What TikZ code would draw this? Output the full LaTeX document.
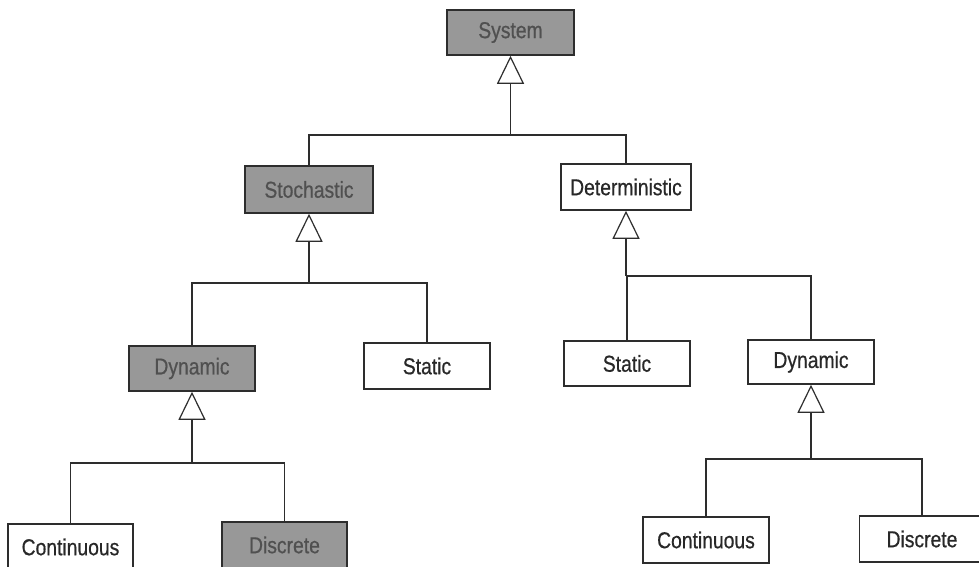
\documentclass[tikz,border=0pt]{standalone}
\usepackage{fontspec}
\setmainfont{Liberation Sans}[FakeStretch=0.84,FakeBold=0.6]
\usetikzlibrary{arrows.meta}
\definecolor{boxgray}{RGB}{152,152,152}
\definecolor{linegray}{RGB}{45,45,45}
\definecolor{txtdark}{RGB}{40,40,40}
\definecolor{txtgray}{RGB}{80,80,80}
\tikzset{
  cls/.style={draw=linegray, line width=1.6pt, rectangle, minimum width=126pt, minimum height=45pt, inner sep=0pt, font=\fontsize{23}{25}\selectfont, text=txtdark, fill=white},
  shaded/.style={cls, fill=boxgray, text=txtgray},
  conn/.style={draw=linegray, line width=1.1pt},
  gen/.style={conn, -{Triangle[open, length=28pt, width=27pt, line width=1.2pt]}}
}
\begin{document}
\begin{tikzpicture}[x=1pt,y=-1pt]
\useasboundingbox (0,0) rectangle (979,567);
\clip (0,0) rectangle (979,567);
\node[shaded, minimum width=127pt] (sys) at (510.5,32.5) {System};
\node[shaded, minimum width=128pt, minimum height=47pt] (sto) at (309,189.5) {Stochastic};
\node[cls, minimum width=130pt, minimum height=46pt] (det) at (626,187) {Deterministic};
\node[shaded] (dynl) at (192,368.5) {Dynamic};
\node[cls, minimum height=46pt] (statl) at (427,366) {Static};
\node[cls] (statr) at (627,363.5) {Static};
\node[cls, minimum height=44pt] (dynr) at (811,362) {Dynamic};
\node[cls, minimum width=125pt, minimum height=46pt] (contl) at (70.5,547) {Continuous};
\node[shaded, minimum width=125pt, minimum height=46pt] (discl) at (284.5,545) {Discrete};
\node[cls, minimum height=46pt] (contr) at (706,540) {Continuous};
\node[cls, minimum width=125pt, minimum height=46pt] (discr) at (922,539) {Discrete};
% junctions
\coordinate (j1) at (sys.south |- 0,135);
\coordinate (j2) at (sto.south |- 0,283);
\coordinate (j3) at (det.south |- 0,276);
\coordinate (j4) at (dynl.south |- 0,463);
\coordinate (j5) at (dynr.south |- 0,459);
% System
\draw[conn] (sto.north) |- (j1);
\draw[conn] (det.north) |- (j1);
\draw[gen] (j1) -- (sys.south);
% Stochastic
\draw[conn] (dynl.north) |- (j2);
\draw[conn] (statl.north) |- (j2);
\draw[gen] (j2) -- (sto.south);
% Deterministic
\draw[conn] (statr.north) |- (j3);
\draw[conn] (dynr.north) |- (j3);
\draw[gen] (j3) -- (det.south);
% Dynamic left
\draw[conn] (contl.north) |- (j4);
\draw[conn] (discl.north) |- (j4);
\draw[gen] (j4) -- (dynl.south);
% Dynamic right
\draw[conn] (contr.north) |- (j5);
\draw[conn] (discr.north) |- (j5);
\draw[gen] (j5) -- (dynr.south);
\end{tikzpicture}
\end{document}
